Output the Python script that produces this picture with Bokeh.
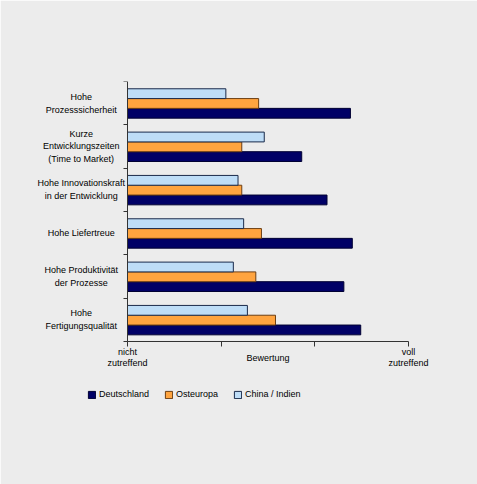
from bokeh.plotting import figure
from bokeh.models import Range1d, FixedTicker, Legend, LegendItem, Label, ColumnDataSource
from bokeh.transform import dodge
from bokeh.core.properties import value
from bokeh.embed import file_html
from bokeh.resources import INLINE

# ---- data ----
categories = [
    "Hohe\nProzesssicherheit",
    "Kurze\nEntwicklungszeiten\n(Time to Market)",
    "Hohe Innovationskraft\nin der Entwicklung",
    "Hohe Liefertreue",
    "Hohe Produktivität\nder Prozesse",
    "Hohe\nFertigungsqualität",
]
deutschland = [2.38, 1.86, 2.13, 2.40, 2.31, 2.49]
osteuropa = [1.40, 1.22, 1.22, 1.43, 1.37, 1.58]
china_indien = [1.05, 1.46, 1.18, 1.24, 1.13, 1.28]
series_names = ["Deutschland", "Osteuropa", "China / Indien"]
x_major_ticks = [0, 3]
x_minor_ticks = [1, 2]
x_tick_labels = ["nicht\nzutreffend", "voll\nzutreffend"]
axis_title = "Bewertung"

# ---- style / layout ----
W, H = 477, 484
BG = "#ECECEC"
FONT = "Liberation Sans"
FS = "9px"
F_LEFT, F_TOP, F_RIGHT, F_BOTTOM = 30, 81, 440, 440
AX_TOP, AX_BOTTOM = 81, 341          # y-axis extent in pixels
X0_PX, X3_PX = 127, 408
px_per_x = (X3_PX - X0_PX) / (x_major_ticks[-1] - x_major_ticks[0])
n = len(categories)
px_per_y = (AX_BOTTOM - AX_TOP) / n

x_start = x_major_ticks[0] - (X0_PX - F_LEFT) / px_per_x
x_end = x_major_ticks[-1] + (F_RIGHT - X3_PX) / px_per_x
y_start = -(F_BOTTOM - AX_BOTTOM) / px_per_y

ypos = [n - i - 0.5 for i in range(n)]
src = ColumnDataSource(dict(cat=categories, y=ypos, de=deutschland,
                            ost=osteuropa, cn=china_indien))

p = figure(width=W, height=H, output_backend="svg", toolbar_location=None,
           x_range=Range1d(x_start, x_end), y_range=Range1d(y_start, n),
           min_border_left=F_LEFT, min_border_top=F_TOP,
           min_border_bottom=H - F_BOTTOM, min_border_right=W - F_RIGHT)
p.background_fill_color = BG
p.border_fill_color = BG
p.outline_line_color = BG
p.outline_line_width = 2
p.grid.visible = False

bh = 9.8 / px_per_y
shift = -0.3 / px_per_y
colors = [("#000066", "#000033"), ("#FFA43F", "#6B3E14"), ("#BEDDF7", "#1A2A4A")]
fields = ["de", "ost", "cn"]
offsets = [shift - bh, shift, shift + bh]
renderers = []
for f, off, (fc, lc) in zip(fields, offsets, colors):
    r = p.hbar(y=dodge("y", off), right=f, left=0, height=bh, source=src,
               fill_color=fc, line_color=lc, line_width=1)
    renderers.append(r)

# category labels
p.text(x=-(X0_PX - 80.7) / px_per_x, y="y", text="cat", source=src,
       text_align="center", text_baseline="middle",
       text_font=value(FONT), text_font_size=FS, text_color="black",
       text_line_height=1.27)

# x axis, drawn at y = 0
xa = p.xaxis[0]
xa.fixed_location = 0
xa.ticker = FixedTicker(ticks=x_major_ticks, minor_ticks=x_minor_ticks)
xa.major_label_overrides = {t: l for t, l in zip(x_major_ticks, x_tick_labels)}
xa.bounds = (x_major_ticks[0], x_major_ticks[-1])
xa.major_tick_out = 5
xa.major_tick_in = 0
xa.minor_tick_out = 5
xa.minor_tick_in = 0
xa.axis_line_color = "#333333"
xa.major_tick_line_color = "#333333"
xa.minor_tick_line_color = "#333333"
xa.major_label_text_font = FONT
xa.major_label_text_font_size = FS
xa.major_label_text_color = "black"
xa.major_label_standoff = 0
xa.major_label_text_line_height = 1.16

# y axis at x = 0, category boundary ticks only
ya = p.yaxis[0]
ya.fixed_location = 0
ya.ticker = FixedTicker(ticks=[], minor_ticks=list(range(n + 1)))
ya.bounds = (0, n)
ya.minor_tick_out = 4
ya.minor_tick_in = 0
ya.major_tick_line_color = None
ya.axis_line_color = "#333333"
ya.minor_tick_line_color = "#333333"

# axis title between end labels
p.add_layout(Label(x=(x_major_ticks[0] + x_major_ticks[-1]) / 2, y=-16 / px_per_y,
                   text=axis_title, text_align="center", text_baseline="middle",
                   text_font=FONT, text_font_size=FS, text_color="black"))

legend = Legend(items=[LegendItem(label=nm, renderers=[r])
                       for nm, r in zip(series_names, renderers)],
                orientation="horizontal", location=(87 - F_LEFT, F_BOTTOM - 390 - 9),
                glyph_width=9, glyph_height=9, label_height=9,
                label_standoff=3, spacing=15, padding=0, margin=0,
                border_line_color=None, background_fill_alpha=0,
                label_text_font=FONT, label_text_font_size=FS,
                label_text_color="black")
p.add_layout(legend)

open("out.html", "w").write(file_html(p, INLINE))
